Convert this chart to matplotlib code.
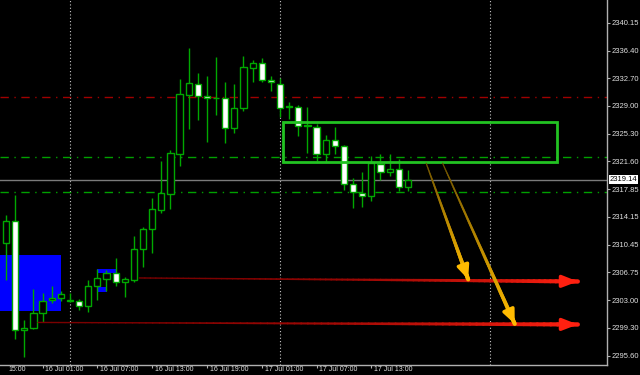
import numpy as np
import matplotlib
matplotlib.use("Agg")
import matplotlib.pyplot as plt
from matplotlib.collections import LineCollection
from matplotlib.patches import Rectangle
from matplotlib.colors import to_rgb

plt.rcParams['font.family'] = ['Liberation Sans', 'DejaVu Sans']

# candle data
opens = [2310.62, 2313.66, 2298.98, 2299.24, 2301.36, 2303.08, 2303.34, 2302.95, 2302.95, 2302.29,
         2304.93, 2305.86, 2306.65, 2305.46, 2305.72, 2309.82, 2312.60, 2315.12, 2317.23, 2322.52,
         2330.46, 2331.92, 2330.33, 2330.06, 2330.06, 2326.10, 2328.74, 2334.03, 2334.69, 2332.45,
         2331.92, 2328.87, 2328.87, 2326.36, 2326.23, 2322.52, 2324.38, 2323.58, 2318.56, 2317.36,
         2316.97, 2321.20, 2320.14, 2320.54, 2318.16]
highs = [2314.46, 2317.10, 2300.43, 2304.53, 2304.01, 2304.93, 2304.27, 2304.01, 2303.21, 2305.72,
         2307.18, 2307.05, 2308.63, 2306.12, 2311.54, 2312.74, 2316.70, 2321.60, 2323.05, 2332.58,
         2336.68, 2333.37, 2332.97, 2335.49, 2332.18, 2331.92, 2335.62, 2335.09, 2335.36, 2332.97,
         2332.71, 2329.53, 2329.14, 2328.87, 2326.62, 2325.17, 2326.23, 2323.71, 2319.35, 2320.14,
         2322.26, 2322.52, 2322.52, 2321.86, 2320.41]
lows = [2305.72, 2297.79, 2295.41, 2299.11, 2300.04, 2302.68, 2302.95, 2302.81, 2301.76, 2301.49,
        2303.08, 2304.27, 2304.93, 2303.48, 2305.46, 2307.44, 2309.30, 2314.72, 2315.25, 2320.94,
        2325.96, 2327.15, 2324.11, 2327.82, 2323.98, 2325.43, 2328.34, 2332.18, 2332.18, 2330.99,
        2327.55, 2327.29, 2325.04, 2322.66, 2321.60, 2321.47, 2322.52, 2317.76, 2315.38, 2315.51,
        2316.31, 2319.08, 2319.61, 2317.63, 2317.63]
closes = [2313.66, 2298.98, 2299.24, 2301.36, 2302.95, 2303.34, 2303.87, 2302.98, 2302.29, 2304.93,
          2305.99, 2306.65, 2305.46, 2305.86, 2309.82, 2312.60, 2315.25, 2317.36, 2322.66, 2330.59,
          2332.05, 2330.33, 2330.06, 2330.00, 2326.10, 2328.74, 2334.16, 2334.69, 2332.45, 2332.18,
          2328.74, 2328.85, 2326.36, 2326.34, 2322.52, 2324.38, 2323.58, 2318.56, 2317.50, 2316.97,
          2321.33, 2320.14, 2320.54, 2318.16, 2319.14]

price_ticks = [2340.15, 2336.40, 2332.70, 2329.00, 2325.30, 2321.60, 2317.85,
               2314.15, 2310.45, 2306.75, 2303.00, 2299.30, 2295.60]
bid = 2319.14

time_tick_idx = [4, 10, 16, 22, 28, 34, 40]
time_labels = ["16 Jul 01:00", "16 Jul 07:00", "16 Jul 13:00", "16 Jul 19:00",
               "17 Jul 01:00", "17 Jul 07:00", "17 Jul 13:00"]
sep_idx = [7, 30, 53]

red_level = 2330.15
green_levels = [2322.22, 2317.46]

# zones: (x start, x end, low, high)
blue_zones = [(-1.0, 6.0, 2301.62, 2309.03), (10.0, 12.1, 2306.70, 2307.20), (10.0, 11.1, 2304.16, 2304.80)]
green_box = (30.3, 60.35, 2321.53, 2326.89)

# trend lines: x0, p0, x1, p1
red_rays = [(14.6, 2305.99, 62.6, 2305.52), (3.5, 2300.04, 62.6, 2299.77)]
yellow_arrows = [(46.0, 2321.33, 50.6, 2305.80), (47.8, 2321.33, 55.7, 2299.85)]

GREEN = "#00a800"
LABEL = "#e0e0e0"
FS = 5.5


def fade_line(ax, x0, y0, x1, y1, c0, c1, w0, w1, power=2.0, n=80):
    t = np.linspace(0, 1, n + 1)
    xs = x0 + (x1 - x0) * t
    ys = y0 + (y1 - y0) * t
    pts = np.column_stack([xs, ys])
    segs = np.stack([pts[:-1], pts[1:]], axis=1)
    tm = ((t[:-1] + t[1:]) / 2) ** power
    a, b = np.array(to_rgb(c0)), np.array(to_rgb(c1))
    cols = a[None, :] * (1 - tm[:, None]) + b[None, :] * tm[:, None]
    lc = LineCollection(segs, colors=cols, linewidths=w0 + (w1 - w0) * tm, capstyle="round", zorder=6)
    ax.add_collection(lc)


fig = plt.figure(figsize=(6.4, 3.75), dpi=100, facecolor="black")
ax = fig.add_axes([0, 10 / 375, 607 / 640, 365 / 375])
ax.set_facecolor("black")
ax.set_xlim(-0.66, 65.8)
ax.set_ylim(2294.35, 2343.16)

for x0, x1, lo, hi in blue_zones:
    ax.add_patch(Rectangle((x0, lo), x1 - x0, hi - lo, facecolor="#0000ff", edgecolor="none", zorder=1))

for i in sep_idx:
    ax.axvline(i, color="#c8c8c8", lw=0.8, ls=(0, (1, 2)), zorder=1.5)

ax.axhline(red_level, color="#a00000", lw=1, ls=(0, (6, 4, 1, 4)), zorder=2)
for lv in green_levels:
    ax.axhline(lv, color="#00a000", lw=1, ls=(0, (6, 4, 1, 4)), zorder=2)
ax.axhline(bid, color="#7a7a7a", lw=1, zorder=2)

x = np.arange(len(opens))
o = np.array(opens)
c = np.array(closes)
ax.vlines(x, lows, highs, color=GREEN, lw=1, zorder=3)
bottom = np.minimum(o, c)
height = np.maximum(np.abs(c - o), 0.12)
fill = ["black" if cc > oo else "white" for oo, cc in zip(o, c)]
ax.bar(x, height, bottom=bottom, width=0.68, color=fill, edgecolor=GREEN, linewidth=1, zorder=4)

gx0, gx1, glo, ghi = green_box
ax.add_patch(Rectangle((gx0, glo), gx1 - gx0, ghi - glo, fill=False, edgecolor="#22c322", lw=2, zorder=5))

for x0, y0, x1, y1 in red_rays:
    fade_line(ax, x0, y0, x1, y1, "#7a0000", "#ff2010", 1.0, 3.2, power=2.0)
    dx, dy = (x1 - x0) * 0.01, (y1 - y0) * 0.01
    ax.annotate("", xy=(x1, y1), xytext=(x1 - dx, y1 - dy), zorder=7,
                arrowprops=dict(arrowstyle="-|>,head_length=0.9,head_width=0.35", color="#ff2010",
                                lw=2.5, shrinkA=0, shrinkB=0))

for x0, y0, x1, y1 in yellow_arrows:
    fade_line(ax, x0, y0, x1, y1, "#6a5000", "#ffbb00", 0.8, 3.0, power=0.9)
    dx, dy = (x1 - x0) * 0.05, (y1 - y0) * 0.05
    ax.annotate("", xy=(x1, y1), xytext=(x1 - dx, y1 - dy), zorder=7,
                arrowprops=dict(arrowstyle="-|>,head_length=0.8,head_width=0.35", color="#ffbb00",
                                lw=2.5, shrinkA=0, shrinkB=0))

for s in ["left", "top"]:
    ax.spines[s].set_visible(False)
for s in ["right", "bottom"]:
    ax.spines[s].set_color("#b0b0b0")
    ax.spines[s].set_linewidth(1)

ax.yaxis.tick_right()
ax.set_yticks(price_ticks)
ax.set_yticklabels([f"{p:.2f}" for p in price_ticks])
ax.tick_params(axis="y", colors="#b0b0b0", labelcolor=LABEL, labelsize=FS, length=2, width=0.8, pad=1)
ax.set_xticks(time_tick_idx)
ax.set_xticklabels([])
ax.tick_params(axis="x", colors="#b0b0b0", length=2, width=0.8)
for i, lab in zip(time_tick_idx, time_labels):
    ax.text(i + 0.3, -0.004, lab, transform=ax.get_xaxis_transform(), color=LABEL,
            fontsize=5, va="top", ha="left")
ax.text(0.3, -0.004, "15:00", transform=ax.get_xaxis_transform(), color=LABEL,
        fontsize=5, va="top", ha="left")

ax.text(1.004, bid, f"{bid:.2f}", transform=ax.get_yaxis_transform(), color="black", fontsize=FS,
        va="center", ha="left", zorder=8,
        bbox=dict(boxstyle="square,pad=0.12", facecolor="white", edgecolor="none"))

fig.savefig("out.png", dpi=100, facecolor="black")
